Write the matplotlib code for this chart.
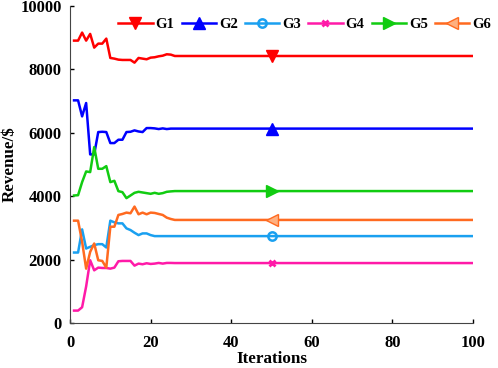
import numpy as np
import matplotlib
matplotlib.use("Agg")
import matplotlib.pyplot as plt

iters = np.arange(1, 101)
g1_head = [8905, 8905, 9158, 8905, 9116, 8684, 8810, 8810, 8968, 8358,
           8337, 8305, 8295, 8295, 8295, 8210, 8358, 8337, 8316, 8368,
           8380, 8410, 8430, 8474, 8463]
g2_head = [7021, 7021, 6516, 6937, 5316, 5316, 6021, 6030, 6021, 5674,
           5674, 5779, 5779, 6021, 6030, 6074, 6040, 6021, 6147, 6147,
           6137, 6116, 6137, 6116, 6130]
g3_head = [2222, 2222, 2952, 2349, 2402, 2455, 2486, 2486, 2381, 3227,
           3174, 3142, 3142, 2984, 2931, 2846, 2772, 2825, 2825, 2772,
           2740, 2740, 2740, 2740, 2740]
g4_head = [391, 391, 497, 1153, 1978, 1661, 1746, 1735, 1735, 1714,
           1746, 1947, 1957, 1957, 1957, 1809, 1873, 1852, 1884, 1862,
           1873, 1894, 1873, 1894, 1894]
g5_head = [4021, 4030, 4442, 4779, 4758, 5547, 4863, 4863, 4947, 4442,
           4484, 4158, 4126, 3937, 4021, 4105, 4137, 4116, 4095, 4074,
           4105, 4074, 4095, 4137, 4150]
g6_head = [3227, 3227, 2560, 1714, 2243, 2507, 1978, 1957, 1746, 3036,
           3036, 3407, 3438, 3481, 3460, 3671, 3428, 3481, 3428, 3481,
           3470, 3438, 3407, 3322, 3280]
final = {'G1': 8420, 'G2': 6130, 'G3': 2740, 'G4': 1890, 'G5': 4160, 'G6': 3250}

series = {
    'G1': g1_head + [final['G1']] * 75,
    'G2': g2_head + [final['G2']] * 75,
    'G3': g3_head + [final['G3']] * 75,
    'G4': g4_head + [final['G4']] * 75,
    'G5': g5_head + [final['G5']] * 75,
    'G6': g6_head + [final['G6']] * 75,
}

styles = {
    'G1': dict(color='#ff0000', marker='v', mfc='#ff0000'),
    'G2': dict(color='#0000ff', marker='^', mfc='#0000ff'),
    'G3': dict(color='#1aa0f0', marker='o', mfc='none', mew=1.8, ms=6),
    'G4': dict(color='#ff1aa8', marker='x', mew=2.0, ms=4),
    'G5': dict(color='#11cc11', marker='>', mfc='#11cc11'),
    'G6': dict(color='#ff6a20', marker='<', mfc='#ffb080'),
}

plt.rcParams['font.family'] = ['Liberation Serif', 'DejaVu Serif']
plt.rcParams['font.weight'] = 'bold'

fig = plt.figure(figsize=(4.98, 3.68), dpi=100)
ax = fig.add_axes([0.1406, 0.1223, 0.8094, 0.8617])

for name, vals in series.items():
    st = dict(ms=9)
    st.update(styles[name])
    ax.plot(iters, vals, linewidth=1.8, markevery=[49], label=name, **st)

ax.set_xlim(0, 100)
ax.set_ylim(0, 10000)
ax.set_xticks(np.arange(0, 101, 20))
ax.set_yticks(np.arange(0, 10001, 2000))
ax.tick_params(direction='in', labelsize=12, length=3, width=1)
ax.tick_params(axis='x', pad=9)
ax.tick_params(axis='y', pad=6)
for lab in ax.get_xticklabels() + ax.get_yticklabels():
    lab.set_fontweight('bold')
for s in ax.spines.values():
    s.set_color('#444444')
ax.spines['top'].set_visible(False)
ax.spines['right'].set_visible(False)
ax.set_xlabel('Iterations', fontsize=12.3, fontweight='bold', labelpad=0)
ax.set_ylabel('Revenue/$', fontsize=12.2, fontweight='bold')
ax.yaxis.set_label_coords(-0.131, 0.5)

ax.legend(loc='center left', ncol=6, frameon=False, fontsize=10.5,
          handlelength=2.35, columnspacing=0.5, handletextpad=0.2,
          borderpad=0.0, bbox_to_anchor=(111 / 498, 1 - 24 / 368),
          bbox_transform=fig.transFigure)

fig.savefig('out.png', dpi=100)
